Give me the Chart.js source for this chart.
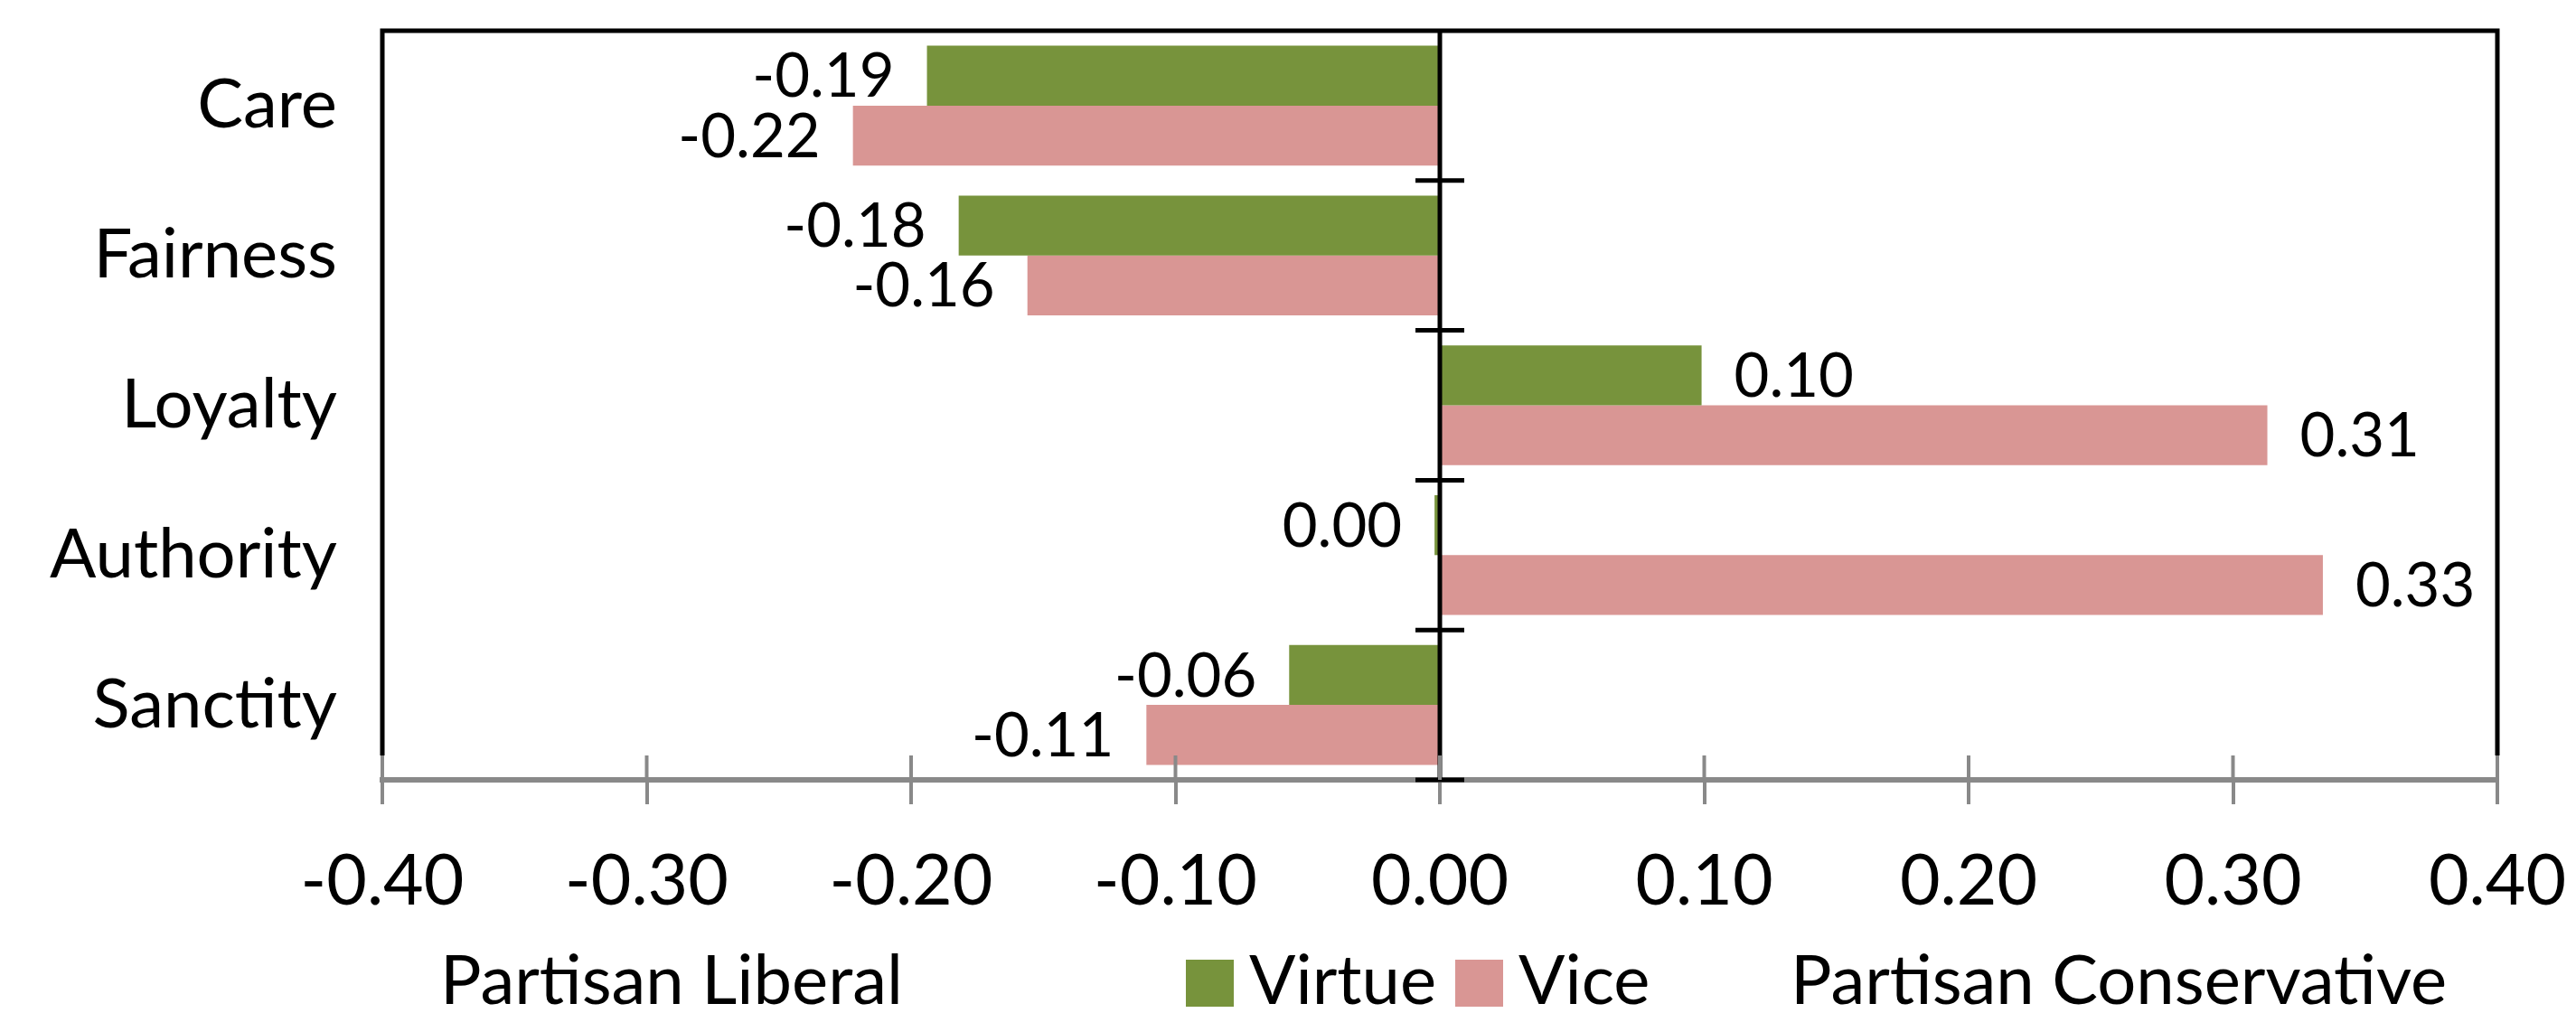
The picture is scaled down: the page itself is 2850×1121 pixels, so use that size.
<!DOCTYPE html>
<html>
<head>
<meta charset="utf-8">
<script src="https://cdn.jsdelivr.net/npm/chart.js@4.4.0/dist/chart.umd.min.js"></script>
<style>
  html, body { margin: 0; padding: 0; background: #ffffff; }
  #wrap { width: 2850px; height: 1121px; position: relative; }
</style>
</head>
<body>
<div id="wrap"><canvas id="c" width="2850" height="1121"></canvas></div>
<script>
const categories = ['Care', 'Fairness', 'Loyalty', 'Authority', 'Sanctity'];
const virtueValues = [-0.194, -0.182, 0.099, -0.002, -0.057];
const viceValues = [-0.222, -0.156, 0.313, 0.334, -0.111];
const seriesNames = ['Virtue', 'Vice'];
const sideLabels = ['Partisan Liberal', 'Partisan Conservative'];
const xMin = -0.4, xMax = 0.4, xStep = 0.1;

const GREEN = '#77933C';
const PINK = '#D99694';
const GRAY = '#898989';
const FONT = 'Lato, "Open Sans", sans-serif';

function fmt(v) {
  let s = v.toFixed(2);
  if (s === '-0.00') s = '0.00';
  return s;
}

const decorPlugin = {
  id: 'decor',
  afterDatasetsDraw(chart) {
    const ctx = chart.ctx;
    const ca = chart.chartArea;
    const xs = chart.scales.x;
    const ys = chart.scales.y;
    ctx.save();
    // data labels
    ctx.font = '67px ' + FONT;
    ctx.fillStyle = '#000';
    ctx.textBaseline = 'middle';
    chart.data.datasets.forEach((ds, di) => {
      const meta = chart.getDatasetMeta(di);
      meta.data.forEach((el, i) => {
        const v = ds.data[i];
        if (v < 0) {
          ctx.textAlign = 'right';
          ctx.fillText(fmt(v), el.x - 36, el.y + 2);
        } else {
          ctx.textAlign = 'left';
          ctx.fillText(fmt(v), el.x + 36, el.y + 2);
        }
      });
    });
    // zero line (category axis)
    const x0 = xs.getPixelForValue(0);
    ctx.strokeStyle = '#000';
    ctx.lineWidth = 5;
    ctx.beginPath();
    ctx.moveTo(x0, ca.top);
    ctx.lineTo(x0, ca.bottom);
    ctx.stroke();
    // category boundary ticks on zero line
    ctx.lineWidth = 5;
    const n = categories.length;
    for (let i = 1; i <= n; i++) {
      let yb;
      if (i < n) yb = (ys.getPixelForTick(i - 1) + ys.getPixelForTick(i)) / 2;
      else yb = ca.bottom;
      ctx.beginPath();
      ctx.moveTo(x0 - 27, yb);
      ctx.lineTo(x0 + 27, yb);
      ctx.stroke();
    }
    // plot border (top, left, right)
    ctx.lineWidth = 5;
    ctx.beginPath();
    ctx.moveTo(ca.left, ca.bottom - 27);
    ctx.lineTo(ca.left, ca.top);
    ctx.lineTo(ca.right, ca.top);
    ctx.lineTo(ca.right, ca.bottom - 27);
    ctx.stroke();
    // upper half of x tick marks
    ctx.strokeStyle = GRAY;
    ctx.lineWidth = 4;
    xs.ticks.forEach((t) => {
      const px = xs.getPixelForValue(t.value);
      ctx.beginPath();
      ctx.moveTo(px, ca.bottom - 27);
      ctx.lineTo(px, ca.bottom);
      ctx.stroke();
    });
    ctx.restore();
  },
  afterDraw(chart) {
    const ctx = chart.ctx;
    ctx.save();
    ctx.font = '76px ' + FONT;
    ctx.fillStyle = '#000';
    ctx.textBaseline = 'middle';
    ctx.textAlign = 'left';
    const yL = 1086;
    ctx.fillText(sideLabels[0], 487, yL);
    ctx.fillText(sideLabels[1], 1981, yL);
    // legend
    const colors = [GREEN, PINK];
    const boxX = [1312, 1610];
    for (let i = 0; i < 2; i++) {
      ctx.fillStyle = colors[i];
      ctx.fillRect(boxX[i], yL - 24, 53, 52);
      ctx.fillStyle = '#000';
      ctx.fillText(seriesNames[i], boxX[i] + 70, yL);
    }
    ctx.restore();
  }
};

new Chart(document.getElementById('c'), {
  type: 'bar',
  data: {
    labels: categories,
    datasets: [
      { label: seriesNames[0], data: virtueValues, backgroundColor: GREEN, borderWidth: 0, categoryPercentage: 0.8, barPercentage: 1.0 },
      { label: seriesNames[1], data: viceValues, backgroundColor: PINK, borderWidth: 0, categoryPercentage: 0.8, barPercentage: 1.0 }
    ]
  },
  options: {
    indexAxis: 'y',
    responsive: false,
    animation: false,
    devicePixelRatio: 1,
    layout: { padding: { top: 34, right: 87, left: 0, bottom: 0 } },
    plugins: { legend: { display: false }, tooltip: { enabled: false } },
    scales: {
      x: {
        min: xMin, max: xMax,
        afterFit(s) { s.height = 258; s.paddingLeft = 0; s.paddingRight = 0; s.paddingTop = 0; s.paddingBottom = 0; },
        ticks: { stepSize: xStep, callback: (v) => fmt(v), font: { family: FONT, size: 77 }, color: '#000', padding: 40, maxRotation: 0 },
        grid: { drawOnChartArea: false, drawTicks: true, tickLength: 27, color: GRAY, lineWidth: 4 },
        border: { display: true, color: GRAY, width: 6 }
      },
      y: {
        afterFit(s) { s.width = 423; s.paddingLeft = 0; s.paddingRight = 0; s.paddingTop = 0; s.paddingBottom = 0; },
        ticks: { font: { family: FONT, size: 76 }, color: '#000', padding: 42 },
        grid: { display: false },
        border: { display: false }
      }
    }
  },
  plugins: [decorPlugin]
});
</script>
</body>
</html>
